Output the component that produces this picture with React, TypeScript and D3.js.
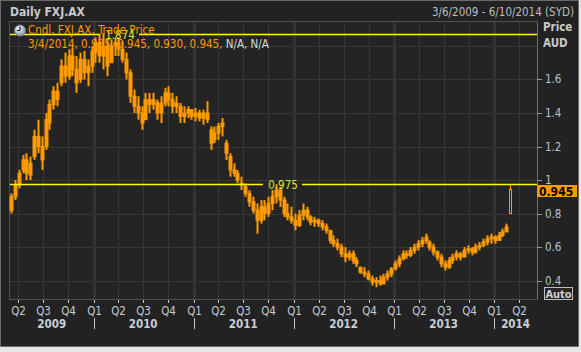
import React, { useEffect, useRef } from "react";
import * as d3 from "d3";

// bi-weekly candles, 6 Mar 2009 -> 4 Mar 2014
const START = new Date(2009, 2, 6);
const END = new Date(2014, 5, 10);

const opens = [
  0.82, 0.90, 0.97, 1.06, 1.12, 1.03, 1.14, 1.26, 1.20, 1.20, 1.34, 1.45, 1.53, 1.58, 1.68, 1.62, 1.74, 1.66, 1.60, 1.72,
  1.64, 1.68, 1.76, 1.82, 1.74, 1.80, 1.70, 1.80, 1.82, 1.78, 1.72, 1.64, 1.50, 1.44, 1.40, 1.36, 1.48, 1.45, 1.46, 1.40,
  1.46, 1.52, 1.48, 1.44, 1.44, 1.38, 1.40, 1.42, 1.38, 1.40, 1.37, 1.40, 1.30, 1.24, 1.28, 1.32, 1.22, 1.14, 1.06, 1.04,
  0.98, 0.96, 0.92, 0.87, 0.82, 0.76, 0.84, 0.80, 0.86, 0.90, 0.94, 0.88, 0.80, 0.78, 0.76, 0.73, 0.79, 0.82, 0.78, 0.75,
  0.76, 0.74, 0.72, 0.70, 0.64, 0.62, 0.60, 0.56, 0.54, 0.56, 0.52, 0.48, 0.45, 0.44, 0.41, 0.39, 0.40, 0.38, 0.42, 0.44,
  0.47, 0.50, 0.53, 0.56, 0.55, 0.58, 0.60, 0.62, 0.64, 0.63, 0.60, 0.57, 0.54, 0.50, 0.48, 0.52, 0.54, 0.56, 0.54, 0.58,
  0.59, 0.57, 0.60, 0.61, 0.63, 0.65, 0.66, 0.64, 0.67, 0.69, 0.80,
];
const highs = [
  0.92, 1.00, 1.06, 1.15, 1.16, 1.14, 1.30, 1.36, 1.26, 1.40, 1.48, 1.56, 1.58, 1.72, 1.76, 1.78, 1.79, 1.74, 1.76, 1.77,
  1.72, 1.80, 1.85, 1.87, 1.874, 1.84, 1.84, 1.85, 1.85, 1.83, 1.76, 1.66, 1.54, 1.50, 1.44, 1.52, 1.52, 1.52, 1.48, 1.50,
  1.55, 1.56, 1.52, 1.50, 1.46, 1.44, 1.44, 1.42, 1.43, 1.42, 1.42, 1.47, 1.32, 1.32, 1.34, 1.37, 1.24, 1.16, 1.10, 1.06,
  1.02, 0.98, 0.94, 0.90, 0.86, 0.88, 0.88, 0.90, 0.94, 0.975, 0.96, 0.90, 0.86, 0.84, 0.80, 0.82, 0.86, 0.84, 0.79, 0.78,
  0.77, 0.76, 0.74, 0.70, 0.67, 0.65, 0.62, 0.60, 0.58, 0.58, 0.54, 0.48, 0.48, 0.46, 0.43, 0.42, 0.43, 0.44, 0.46, 0.48,
  0.52, 0.55, 0.58, 0.58, 0.60, 0.62, 0.64, 0.66, 0.68, 0.64, 0.62, 0.58, 0.56, 0.52, 0.54, 0.56, 0.58, 0.57, 0.60, 0.61,
  0.60, 0.62, 0.63, 0.65, 0.67, 0.68, 0.67, 0.69, 0.71, 0.74, 0.975,
];
const lows = [
  0.80, 0.88, 0.95, 1.04, 1.00, 1.00, 1.12, 1.16, 1.06, 1.18, 1.30, 1.42, 1.44, 1.56, 1.58, 1.60, 1.62, 1.52, 1.58, 1.60,
  1.56, 1.64, 1.70, 1.70, 1.66, 1.62, 1.70, 1.74, 1.74, 1.70, 1.60, 1.46, 1.40, 1.36, 1.30, 1.36, 1.40, 1.42, 1.36, 1.34,
  1.44, 1.44, 1.40, 1.40, 1.34, 1.34, 1.37, 1.36, 1.35, 1.35, 1.33, 1.34, 1.18, 1.22, 1.24, 1.26, 1.12, 1.02, 1.02, 0.98,
  0.94, 0.90, 0.84, 0.80, 0.68, 0.74, 0.76, 0.78, 0.82, 0.86, 0.84, 0.78, 0.76, 0.74, 0.70, 0.72, 0.76, 0.76, 0.73, 0.72,
  0.72, 0.70, 0.68, 0.62, 0.60, 0.58, 0.54, 0.51, 0.52, 0.50, 0.48, 0.44, 0.42, 0.40, 0.37, 0.36, 0.37, 0.38, 0.40, 0.42,
  0.46, 0.48, 0.52, 0.53, 0.54, 0.56, 0.58, 0.60, 0.62, 0.58, 0.55, 0.52, 0.48, 0.46, 0.47, 0.50, 0.52, 0.52, 0.54, 0.56,
  0.55, 0.56, 0.58, 0.60, 0.61, 0.62, 0.62, 0.64, 0.66, 0.69, 0.80,
];
const closes = [
  0.90, 0.97, 1.04, 1.12, 1.04, 1.10, 1.26, 1.20, 1.12, 1.36, 1.45, 1.53, 1.48, 1.68, 1.62, 1.74, 1.66, 1.58, 1.72, 1.64,
  1.68, 1.77, 1.82, 1.74, 1.80, 1.68, 1.80, 1.82, 1.78, 1.72, 1.64, 1.50, 1.44, 1.40, 1.34, 1.48, 1.45, 1.48, 1.40, 1.46,
  1.52, 1.48, 1.44, 1.46, 1.38, 1.40, 1.42, 1.38, 1.40, 1.37, 1.40, 1.36, 1.22, 1.28, 1.32, 1.34, 1.16, 1.06, 1.04, 1.00,
  0.97, 0.92, 0.87, 0.82, 0.76, 0.84, 0.80, 0.86, 0.90, 0.94, 0.88, 0.80, 0.78, 0.76, 0.73, 0.79, 0.82, 0.78, 0.75, 0.76,
  0.74, 0.72, 0.70, 0.64, 0.62, 0.60, 0.56, 0.54, 0.56, 0.52, 0.50, 0.45, 0.44, 0.41, 0.39, 0.40, 0.38, 0.42, 0.44, 0.47,
  0.50, 0.53, 0.56, 0.55, 0.58, 0.60, 0.62, 0.64, 0.66, 0.60, 0.57, 0.54, 0.50, 0.48, 0.52, 0.54, 0.56, 0.54, 0.58, 0.59,
  0.57, 0.60, 0.61, 0.63, 0.65, 0.66, 0.64, 0.67, 0.69, 0.72, 0.945,
];

const yGrid = [0.4, 0.6, 0.8, 1.0, 1.2, 1.4, 1.6, 1.8];
const yTickLabels = ["0.4", "0.6", "0.8", "1", "1.2", "1.4", "1.6"];
const refLines = [
  { value: 1.874, label: "1.874" },
  { value: 0.975, label: "0.975" },
];
const lastPrice = 0.945;
const legendValues = "3/4/2014, 0.935, 0.945, 0.930, 0.945, ";

const ORANGE = "#ff9a00";
const PLOT_BG = "#242424";
const FONT = "'DejaVu Sans Condensed', 'Liberation Sans', sans-serif";

const App: React.FC = () => {
  const ref = useRef<SVGSVGElement>(null);

  useEffect(() => {
    if (!ref.current) return;
    const svg = d3.select(ref.current);
    svg.selectAll("*").remove();

    const plot = { left: 10, right: 537, top: 22, bottom: 299 };

    const x = d3.scaleTime().domain([START, END]).range([11, 538]);
    const y = d3.scaleLinear().domain([0.29, 1.943]).range([plot.bottom, plot.top]);

    // page + panel
    svg.append("rect").attr("width", 581).attr("height", 352).attr("fill", "#e6e6e6");
    svg.append("rect").attr("x", 0.5).attr("y", 0.5).attr("width", 578).attr("height", 346)
      .attr("fill", "#222222").attr("stroke", "#6a6a6a");

    // header
    svg.append("text").attr("x", 10).attr("y", 16)
      .style("font-family", FONT).style("font-size", "12px").style("font-weight", "bold")
      .style("fill", "#c9c9c9").text("Daily FXJ.AX");
    svg.append("text").attr("x", 574).attr("y", 16).attr("text-anchor", "end")
      .style("font-family", FONT).style("font-size", "11.5px")
      .style("fill", "#bdbdbd").text("3/6/2009 - 6/10/2014 (SYD)");

    // plot bg
    svg.append("rect").attr("x", plot.left - 0.5).attr("y", plot.top - 0.5)
      .attr("width", plot.right - plot.left + 1).attr("height", plot.bottom - plot.top + 1)
      .attr("fill", PLOT_BG).attr("stroke", "#505050");

    const quarters = d3.timeMonth.every(3)!.range(new Date(2009, 3, 1), END);
    const years = d3.timeYear.range(new Date(2010, 0, 1), END);

    // grid
    const grid = svg.append("g");
    grid.selectAll("line.h").data(yGrid).enter().append("line")
      .attr("x1", plot.left).attr("x2", plot.right)
      .attr("y1", (d: number) => Math.round(y(d)) + 0.5).attr("y2", (d: number) => Math.round(y(d)) + 0.5)
      .attr("stroke", "#383838");
    grid.selectAll("line.v").data(quarters).enter().append("line")
      .attr("x1", (d: Date) => Math.round(x(d)) + 0.5).attr("x2", (d: Date) => Math.round(x(d)) + 0.5)
      .attr("y1", plot.top).attr("y2", plot.bottom)
      .attr("stroke", (d: Date) => d.getMonth() === 0 ? "#333333" : "#383838")
      .attr("stroke-width", (d: Date) => d.getMonth() === 0 ? 3 : 1);

    // candles
    const idx = d3.range(closes.length);
    const last = closes.length - 1;
    const cx = (i: number) => Math.round(x(d3.timeDay.offset(START, i * 14)));
    const candles = svg.append("g");
    candles.selectAll("line").data(idx).enter().append("line")
      .attr("x1", (i: number) => cx(i) + 0.5).attr("x2", (i: number) => cx(i) + 0.5)
      .attr("y1", (i: number) => y(highs[i])).attr("y2", (i: number) => y(lows[i]))
      .attr("stroke", ORANGE).attr("stroke-width", (i: number) => i === last ? 1 : 2);
    candles.selectAll("rect").data(idx).enter().append("rect")
      .attr("x", (i: number) => i === last ? cx(i) - 0.5 : cx(i) - 1)
      .attr("width", (i: number) => i === last ? 2 : 3)
      .attr("y", (i: number) => y(Math.max(opens[i], closes[i])))
      .attr("height", (i: number) => Math.max(1, Math.abs(y(opens[i]) - y(closes[i]))))
      .attr("fill", (i: number) => i === last ? PLOT_BG : ORANGE)
      .attr("stroke", ORANGE);

    // reference lines
    const labelX = [120, 283];
    refLines.forEach((r, k) => {
      const yy = Math.round(y(r.value)) + 0.5;
      const lx = labelX[k];
      svg.append("line").attr("x1", plot.left).attr("x2", lx - 20).attr("y1", yy).attr("y2", yy)
        .attr("stroke", "#ffff00").attr("stroke-width", 1.5);
      svg.append("line").attr("x1", lx + 19).attr("x2", plot.right).attr("y1", yy).attr("y2", yy)
        .attr("stroke", "#ffff00").attr("stroke-width", 1.5);
      svg.append("text").attr("x", lx).attr("y", yy + 4).attr("text-anchor", "middle")
        .style("font-family", FONT).style("font-size", "11.5px").style("fill", "#d6e83c")
        .text(r.label);
    });

    // legend
    const clock = svg.append("g").attr("transform", "translate(20,30.5)");
    const grad = svg.append("defs").append("radialGradient").attr("id", "clk").attr("cx", "40%").attr("cy", "35%");
    grad.append("stop").attr("offset", "0%").attr("stop-color", "#ffffff");
    grad.append("stop").attr("offset", "100%").attr("stop-color", "#9aa6b8");
    clock.append("circle").attr("r", 5.5).attr("fill", "url(#clk)").attr("stroke", "#6f7d92");
    clock.append("path").attr("d", "M0,0 L0,-3.5 M0,0 L-3,0").attr("stroke", "#111").attr("stroke-width", 1.2).attr("fill", "none");

    svg.append("text").attr("x", 28).attr("y", 34)
      .style("font-family", FONT).style("font-size", "11.5px").style("fill", ORANGE)
      .text("Cndl, FXJ.AX, Trade Price");
    const l2 = svg.append("text").attr("x", 28).attr("y", 48)
      .style("font-family", FONT).style("font-size", "11.5px");
    l2.append("tspan").style("fill", ORANGE).text(legendValues);
    l2.append("tspan").style("fill", "#d8d8d8").text("N/A, N/A");

    // right axis
    svg.append("line").attr("x1", plot.right + 0.5).attr("x2", plot.right + 0.5)
      .attr("y1", plot.top).attr("y2", plot.bottom).attr("stroke", "#6e6e6e");
    const yt = svg.append("g");
    yTickLabels.forEach((t) => {
      const yy = Math.round(y(+t)) + 0.5;
      yt.append("line").attr("x1", plot.right).attr("x2", plot.right + 5).attr("y1", yy).attr("y2", yy)
        .attr("stroke", "#9a9a9a");
      yt.append("text").attr("x", 545).attr("y", yy + 3.5)
        .style("font-family", FONT).style("font-size", "11.5px").style("fill", "#b9c2cc").text(t);
    });
    svg.append("text").attr("x", 543).attr("y", 31)
      .style("font-family", FONT).style("font-size", "11.5px").style("font-weight", "bold")
      .style("fill", "#c9c9c9").text("Price");
    svg.append("text").attr("x", 543).attr("y", 47)
      .style("font-family", FONT).style("font-size", "11.5px").style("font-weight", "bold")
      .style("fill", "#c9c9c9").text("AUD");

    // last price tag
    const ly = Math.round(y(lastPrice));
    svg.append("rect").attr("x", 537).attr("y", ly - 4).attr("width", 40).attr("height", 12)
      .attr("fill", ORANGE);
    svg.append("text").attr("x", 539).attr("y", ly + 6.5)
      .style("font-family", FONT).style("font-size", "12px").style("font-weight", "bold")
      .style("fill", "#000").text(d3.format(".3f")(lastPrice));

    // auto button
    svg.append("rect").attr("x", 544.5).attr("y", 287.5).attr("width", 28).attr("height", 12)
      .attr("fill", "#262626").attr("stroke", "#bdbdbd");
    svg.append("text").attr("x", 558.5).attr("y", 297.5).attr("text-anchor", "middle")
      .style("font-family", FONT).style("font-size", "11px").style("font-weight", "bold")
      .style("fill", "#d0d0d0").text("Auto");

    // x axis
    const xa = svg.append("g");
    quarters.forEach((q: Date) => {
      const xx = Math.round(x(q)) + 0.5;
      xa.append("line").attr("x1", xx).attr("x2", xx).attr("y1", 300).attr("y2", 303).attr("stroke", "#c8c8c8");
      xa.append("text").attr("x", xx).attr("y", 315).attr("text-anchor", "middle")
        .style("font-family", FONT).style("font-size", "11.5px").style("fill", "#c4ccd4")
        .text("Q" + (Math.floor(q.getMonth() / 3) + 1));
    });
    years.forEach((yv: Date) => {
      const xx = Math.round(x(yv)) + 0.5;
      xa.append("line").attr("x1", xx).attr("x2", xx).attr("y1", 318).attr("y2", 329).attr("stroke", "#c8c8c8");
    });
    const yearStarts = [START, ...years];
    yearStarts.forEach((s: Date, k: number) => {
      const a = k === 0 ? plot.left : x(s);
      const b = k === years.length ? plot.right : x(years[k]);
      const mid = k === 0 || k === years.length ? (a + b) / 2 : x(new Date(s.getFullYear(), 6, 1));
      xa.append("text").attr("x", mid).attr("y", 328).attr("text-anchor", "middle")
        .style("font-family", FONT).style("font-size", "11.5px").style("font-weight", "bold")
        .style("fill", "#c8d0d8").text(String(s.getFullYear()));
    });
  }, []);

  return (
    <svg ref={ref} width={581} height={352}
      style={{ position: "fixed", left: 0, top: 0, display: "block" }} />
  );
};

export default App;
